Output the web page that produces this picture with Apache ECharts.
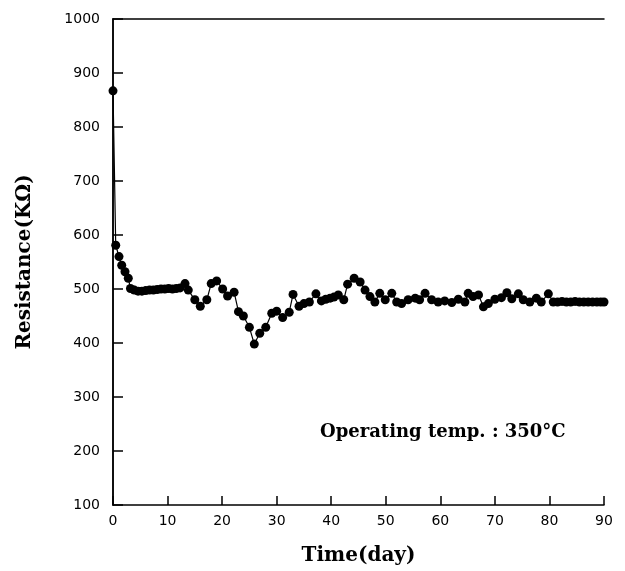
<!DOCTYPE html>
<html>
<head>
<meta charset="utf-8">
<script src="https://cdn.jsdelivr.net/npm/echarts@6/dist/echarts.min.js"></script>
<style>html,body{margin:0;padding:0;background:#fff;}#c{width:625px;height:571px;}</style>
</head>
<body>
<div id="c"></div>
<script>
const days = [0, 0.5, 1.1, 1.6, 2.2, 2.8, 3.2, 3.9, 4.6, 5.3, 6.0, 6.7, 7.4, 8.1, 8.8, 9.5, 10.2, 10.9, 11.6, 12.3,
  13.2, 13.8, 15.0, 16.0, 17.2, 18.0, 19.0, 20.1, 21.0, 22.2, 23.0, 23.9, 25.0, 25.9, 26.9, 28.0, 29.1, 30.0, 31.1, 32.3,
  33.0, 34.1, 35.0, 36.0, 37.2, 38.2, 39.0, 39.8, 40.5, 41.3, 42.3, 43.0, 44.2, 45.3, 46.2, 47.1, 48.0, 48.9, 49.9, 51.1,
  52.0, 52.9, 54.1, 55.4, 56.2, 57.2, 58.4, 59.6, 60.8, 62.1, 63.3, 64.5, 65.1, 66.0, 67.0, 67.9, 68.8, 70.0, 71.2, 72.2,
  73.1, 74.3, 75.2, 76.4, 77.6, 78.5, 79.8, 80.7, 81.5, 82.3, 83.1, 83.9, 84.7, 85.5, 86.3, 87.1, 87.9, 88.7, 89.4, 90.0];
const resistance = [867, 581, 560, 544, 532, 520, 501, 498, 496, 496, 497, 498, 498, 499, 500, 500, 501, 500, 501, 502,
  510, 498, 480, 468, 480, 510, 515, 500, 487, 494, 458, 450, 429, 398, 418, 429, 455, 459, 447, 457,
  490, 468, 473, 476, 491, 478, 481, 483, 485, 489, 480, 509, 520, 513, 498, 486, 476, 492, 480, 492,
  476, 473, 480, 483, 480, 492, 480, 476, 478, 475, 481, 476, 492, 486, 489, 467, 473, 481, 484, 493,
  482, 491, 480, 476, 483, 476, 491, 476, 476, 477, 476, 476, 477, 476, 476, 476, 476, 476, 476, 476];
const xTicks = [0, 10, 20, 30, 40, 50, 60, 70, 80, 90];
const yTicks = [100, 200, 300, 400, 500, 600, 700, 800, 900, 1000];
const xTitle = 'Time(day)';
const yTitle = 'Resistance(KΩ)';
const note = 'Operating temp. : 350°C';

const chart = echarts.init(document.getElementById('c'), null, {renderer: 'canvas'});
const axisLine = {show: true, lineStyle: {color: '#000', width: 1.5}};
chart.setOption({
  animation: false,
  backgroundColor: '#fff',
  grid: {left: 113, right: 21, top: 19, bottom: 66, containLabel: false, outerBoundsMode: 'none'},
  xAxis: [{
    type: 'value', min: xTicks[0], max: xTicks[xTicks.length - 1], interval: 10,
    axisLine: axisLine,
    axisTick: {show: true, inside: true, length: 9, lineStyle: {color: '#000', width: 1.5}},
    axisLabel: {color: '#000', fontFamily: 'DejaVu Sans', fontSize: 14, margin: 9, formatter: v => String(v)},
    splitLine: {show: false},
    name: xTitle, nameLocation: 'middle', nameGap: 41,
    nameTextStyle: {fontFamily: 'DejaVu Serif', fontWeight: 'bold', fontSize: 20, color: '#000'}
  }, {
    type: 'value', position: 'top', min: 0, max: 90,
    axisLine: axisLine, axisTick: {show: false}, axisLabel: {show: false}, splitLine: {show: false}
  }],
  yAxis: [{
    type: 'value', min: yTicks[0], max: yTicks[yTicks.length - 1], interval: 100,
    axisLine: axisLine,
    axisTick: {show: true, inside: true, length: 10, lineStyle: {color: '#000', width: 1.5}},
    axisLabel: {color: '#000', fontFamily: 'DejaVu Sans', fontSize: 14, margin: 13, formatter: v => String(v)},
    splitLine: {show: false},
    name: yTitle, nameLocation: 'middle', nameGap: 78, nameRotate: 90,
    nameTextStyle: {fontFamily: 'DejaVu Serif', fontWeight: 'bold', fontSize: 20, color: '#000'}
  }, {
    type: 'value', position: 'right', min: 100, max: 1000,
    axisLine: axisLine, axisTick: {show: false}, axisLabel: {show: false}, splitLine: {show: false}
  }],
  graphic: [{
    type: 'text', left: 320, top: 423,
    style: {text: note, fontFamily: 'DejaVu Serif', fontWeight: 'bold', fontSize: 18, fill: '#000'}
  }],
  series: [{
    type: 'line',
    data: days.map((d, i) => [d, resistance[i]]),
    symbol: 'circle', symbolSize: 9,
    itemStyle: {color: '#000'},
    lineStyle: {color: '#000', width: 1.2},
    clip: false
  }]
});
</script>
</body>
</html>
